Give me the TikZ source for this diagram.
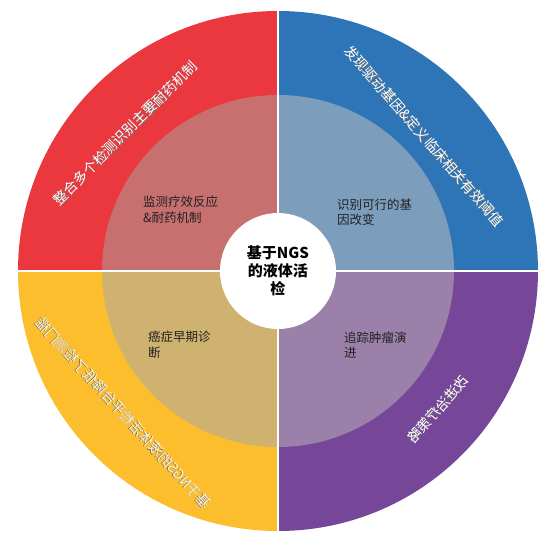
\documentclass[tikz,border=0pt]{standalone}
\usepackage{fontspec}
\setmainfont{Noto Sans CJK SC}
\definecolor{redout}{HTML}{EA383E}
\definecolor{redin}{HTML}{C87070}
\definecolor{blueout}{HTML}{2E75B7}
\definecolor{bluein}{HTML}{7D9DBD}
\definecolor{yelout}{HTML}{FCBE2D}
\definecolor{yelin}{HTML}{CFB270}
\definecolor{purout}{HTML}{764698}
\definecolor{purin}{HTML}{9B81AA}
\definecolor{txtdark}{HTML}{222222}
\definecolor{yeltext}{HTML}{FFF6DC}
\tikzset{
  innerlabel/.style={anchor=west, align=left, text=txtdark, inner sep=0pt,
    font=\fontsize{12.5}{15.5}\selectfont},
  outerlabel/.style={text=white, inner sep=0pt, font=\fontsize{14}{16}\selectfont},
  shadowlabel/.style={text=black!55, inner sep=0pt, font=\fontsize{14}{16}\selectfont},
  centerlabel/.style={align=center, text=black, inner sep=0pt,
    font=\fontsize{15}{18}\selectfont\bfseries},
  divider/.style={draw=white, line width=2.5pt}
}
\begin{document}
\begin{tikzpicture}[x=1pt,y=1pt]
\useasboundingbox (-278,-268) rectangle (277,271);
% outer ring quadrants
\fill[redout] (0,0) -- (90:260) arc[start angle=90,end angle=180,radius=260] -- cycle;
\fill[blueout] (0,0) -- (0:260) arc[start angle=0,end angle=90,radius=260] -- cycle;
\fill[yelout] (0,0) -- (180:260) arc[start angle=180,end angle=270,radius=260] -- cycle;
\fill[purout] (0,0) -- (270:260) arc[start angle=270,end angle=360,radius=260] -- cycle;
% inner quadrants
\fill[redin] (0,0) -- (90:176) arc[start angle=90,end angle=180,radius=176] -- cycle;
\fill[bluein] (0,0) -- (0:176) arc[start angle=0,end angle=90,radius=176] -- cycle;
\fill[yelin] (0,0) -- (180:176) arc[start angle=180,end angle=270,radius=176] -- cycle;
\fill[purin] (0,0) -- (270:176) arc[start angle=270,end angle=360,radius=176] -- cycle;
% dividers
\draw[divider] (-262,0) -- (262,0);
\draw[divider] (0,-262) -- (0,262);
% centre circle
\fill[white] (0,0) circle[radius=58];
\node[centerlabel] (center) at (0,0.5) {基于NGS\\的液体活\\检};
% inner labels
\node[innerlabel] (redinner) at (-135,61.5) {监测疗效反应\\\&耐药机制};
\node[innerlabel] (blueinner) at (59,59) {识别可行的基\\因改变};
\node[innerlabel] (yelinner) at (-130,-73.5) {癌症早期诊\\断};
\node[innerlabel] (purinner) at (66,-74) {追踪肿瘤演\\进};
% outer labels (with a slight shadow, as in the reference)
\node[shadowlabel, rotate=45] (redshadow) at (-152.4,137.4) {整合多个检测识别主要耐药机制};
\node[outerlabel, rotate=45] (redouter) at (-153,138) {整合多个检测识别主要耐药机制};
\node[shadowlabel, rotate=-49] (blueshadow) at (146.6,134.4) {发现驱动基因\&定义临床相关有效阈值};
\node[outerlabel, rotate=-49] (blueouter) at (146,135) {发现驱动基因\&定义临床相关有效阈值};
\begin{scope}[shift={(160,-138)}, rotate=48.6, xscale=-1]
  \node[shadowlabel, transform shape] (purshadow) at (0.5,-0.6) {改进治疗策略};
  \node[outerlabel, transform shape] (purouter) at (0,0) {改进治疗策略};
\end{scope}
\begin{scope}[shift={(-154.5,-142)}, rotate=-47.7, xscale=-1]
  \node[shadowlabel, transform shape] (yelshadow) at (0.6,-0.7) {基于NGS的液体活检平台降低了检测门槛};
  \node[outerlabel, text=yeltext, transform shape] (yelouter) at (0,0) {基于NGS的液体活检平台降低了检测门槛};
\end{scope}
\end{tikzpicture}
\end{document}
